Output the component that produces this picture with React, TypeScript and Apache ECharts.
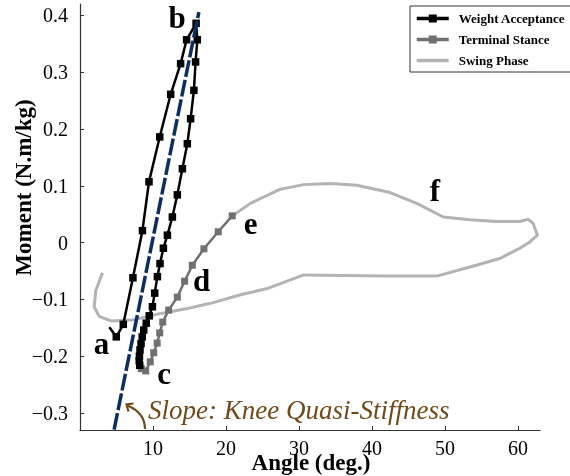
import React, { useEffect, useRef } from 'react';
import * as echarts from 'echarts';

const xTicks = [10, 20, 30, 40, 50, 60];
const yTicks = [-0.3, -0.2, -0.1, 0, 0.1, 0.2, 0.3, 0.4];

const seriesNames = ['Weight Acceptance', 'Terminal Stance', 'Swing Phase'];

const waAngle = [4.02, 4.97, 5.93, 7.25, 8.55, 9.45, 10.92, 12.42, 13.78, 14.6, 15.9, 16.07, 15.83, 15.6, 15.15, 14.7, 14.02, 13.33, 12.65, 11.97, 11.42, 10.96, 10.6, 10.23, 9.92, 9.48, 9.07, 8.73, 8.52, 8.36, 8.22, 8.14, 8.11, 8.18];
const waMoment = [-0.149, -0.166, -0.144, -0.062, 0.021, 0.107, 0.186, 0.261, 0.315, 0.357, 0.386, 0.357, 0.318, 0.268, 0.218, 0.174, 0.13, 0.084, 0.045, 0.013, -0.01, -0.037, -0.06, -0.089, -0.113, -0.129, -0.142, -0.154, -0.166, -0.178, -0.189, -0.2, -0.208, -0.216];

const tsAngle = [8.4, 9.0, 9.62, 10.1, 10.57, 10.92, 11.33, 12.14, 13.33, 14.33, 15.38, 16.97, 18.93, 20.85];
const tsMoment = [-0.222, -0.226, -0.21, -0.194, -0.177, -0.159, -0.14, -0.119, -0.096, -0.068, -0.04, -0.011, 0.019, 0.047];

const swAngle = [20.85, 23.35, 27.45, 30.63, 34.28, 37.92, 42.47, 46.12, 49.75, 53.4, 57.05, 60.23, 61.37, 62.05, 62.65, 61.6, 60.23, 57.5, 53.4, 48.85, 41.56, 30.63, 25.63, 21.98, 17.88, 14.7, 10.6, 7.4, 4.22, 2.62, 1.94, 2.17, 3.09];
const swMoment = [0.047, 0.069, 0.094, 0.102, 0.104, 0.101, 0.088, 0.069, 0.045, 0.04, 0.037, 0.037, 0.041, 0.034, 0.013, 0.001, -0.01, -0.028, -0.043, -0.059, -0.059, -0.057, -0.081, -0.092, -0.107, -0.116, -0.126, -0.136, -0.138, -0.13, -0.113, -0.084, -0.053];

const fitAngle = [4.67, 16.28];
const fitMoment = [-0.3295, 0.4056];

const serif = "'Liberation Serif', 'Times New Roman', serif";
const brown = '#6f4a1b';

function pair(xs: number[], ys: number[]) {
  return xs.map((x, i) => [x, ys[i]]);
}

function fmtY(v: number) {
  if (Math.abs(v) < 1e-9) return '0';
  return v < 0 ? '\u2212' + Math.abs(v).toFixed(1) : v.toFixed(1);
}

export default function App() {
  const ref = useRef<HTMLDivElement>(null);
  useEffect(() => {
    const chart = echarts.init(ref.current!, null, { renderer: 'svg' });
    const waData = pair(waAngle, waMoment).map((p, i) => (i === 0 ? { value: p, symbol: 'none' } : p));
    const letter = (t: string, x: number, y: number) => ({
      type: 'text',
      x,
      y,
      z: 100,
      style: { text: t, font: `bold 31px ${serif}`, fill: '#000', textAlign: 'center', textVerticalAlign: 'middle' },
    });
    chart.setOption({
      animation: false,
      grid: { left: 80, top: 4, right: 30, bottom: 46, containLabel: false, outerBoundsMode: 'none' },
      xAxis: {
        type: 'value',
        min: 0,
        max: 63,
        axisLine: { onZero: false, lineStyle: { color: '#333', width: 1.2 } },
        axisTick: { inside: true, length: 4, customValues: xTicks, lineStyle: { color: '#333' } },
        axisLabel: { customValues: xTicks, fontFamily: serif, fontSize: 20, lineHeight: 12, color: '#000', margin: 12 },
        splitLine: { show: false },
      },
      yAxis: {
        type: 'value',
        min: -0.33,
        max: 0.42,
        axisLine: { show: true, onZero: false, lineStyle: { color: '#333', width: 1.2 } },
        axisTick: { show: true, inside: true, length: 4, customValues: yTicks, lineStyle: { color: '#333' } },
        axisLabel: { customValues: yTicks, formatter: fmtY, fontFamily: serif, fontSize: 20, color: '#000', margin: 12 },
        splitLine: { show: false },
      },
      legend: {
        data: [
          { name: seriesNames[0] },
          { name: seriesNames[1] },
          { name: seriesNames[2], icon: 'path://M0,0L32,0L32,3.4L0,3.4Z' },
        ],
        orient: 'vertical',
        left: 410,
        top: 6,
        padding: [6, 8, 5, 5],
        itemWidth: 32,
        itemHeight: 10,
        itemGap: 8,
        borderColor: '#333',
        borderWidth: 1,
        backgroundColor: '#fff',
        selectedMode: false,
        lineStyle: { width: 3.5 },
        textStyle: { fontFamily: serif, fontWeight: 'bold', fontSize: 13, color: '#000', padding: [0, 0, 0, 5] },
      },
      series: [
        {
          name: 'Swing Phase',
          type: 'line',
          data: pair(swAngle, swMoment),
          symbol: 'none',
          lineStyle: { color: '#b3b3b3', width: 3 },
          itemStyle: { color: '#b3b3b3' },
          z: 1,
        },
        {
          name: 'Terminal Stance',
          type: 'line',
          data: pair(tsAngle, tsMoment),
          symbol: 'rect',
          symbolSize: 7,
          lineStyle: { color: '#707070', width: 2.5 },
          itemStyle: { color: '#707070' },
          z: 2,
        },
        {
          name: 'Weight Acceptance',
          type: 'line',
          data: waData,
          symbol: 'rect',
          symbolSize: 7.5,
          lineStyle: { color: '#000', width: 2.5 },
          itemStyle: { color: '#000' },
          z: 3,
        },
        {
          name: 'Quasi-Stiffness',
          type: 'line',
          data: pair(fitAngle, fitMoment),
          symbol: 'none',
          lineStyle: { color: '#0c2f5f', width: 3.5, type: [17, 3] },
          z: 4,
        },
      ],
      graphic: [
        {
          type: 'text',
          x: 23,
          y: 187.5,
          rotation: Math.PI / 2,
          style: { text: 'Moment (N.m/kg)', font: `bold 23px ${serif}`, fill: '#000', textAlign: 'center', textVerticalAlign: 'middle' },
        },
        {
          type: 'text',
          x: 311,
          y: 462.5,
          style: { text: 'Angle (deg.)', font: `bold 23px ${serif}`, lineHeight: 14, fill: '#000', textAlign: 'center', textVerticalAlign: 'middle' },
        },
        letter('a', 101.5, 343),
        letter('b', 177, 17),
        letter('c', 164, 373),
        letter('d', 201.5, 280),
        letter('e', 250.5, 223),
        letter('f', 435, 190),
        {
          type: 'text',
          x: 148,
          y: 410,
          z: 100,
          style: { text: 'Slope: Knee Quasi-Stiffness', font: `italic 27px ${serif}`, fill: brown, textAlign: 'left', textVerticalAlign: 'middle' },
        },
        {
          type: 'bezierCurve',
          z: 100,
          shape: { x1: 145, y1: 429, cpx1: 145, cpy1: 413, x2: 127.5, y2: 405.5 },
          style: { stroke: brown, lineWidth: 2.2, fill: null },
        },
        {
          type: 'polyline',
          z: 100,
          shape: { points: [[133.5, 403.5], [126.5, 404.5], [128.5, 411.5]] },
          style: { stroke: brown, lineWidth: 2.2, fill: null },
        },
      ],
    });
    return () => chart.dispose();
  }, []);
  return <div ref={ref} style={{ position: 'fixed', left: 0, top: 0, width: 570, height: 476 }} />;
}
